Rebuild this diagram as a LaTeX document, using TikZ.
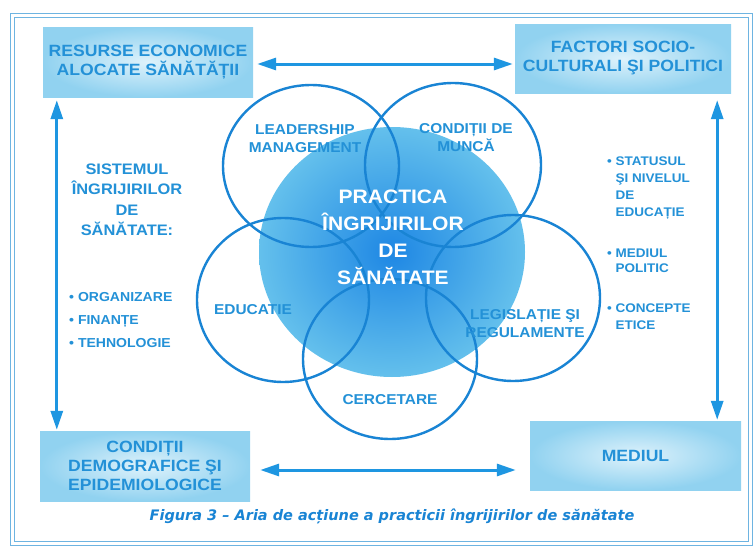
\documentclass[tikz,border=0pt]{standalone}
\usepackage{fontspec}
\setmainfont{Liberation Sans}[FakeStretch=1.08]
\newfontfamily\capfont{DejaVu Sans}
\usetikzlibrary{arrows.meta,shapes.geometric}
\definecolor{tblue}{RGB}{35,145,215}
\definecolor{lblue}{RGB}{25,132,212}
\definecolor{ablue}{RGB}{30,150,225}
\definecolor{fblue}{RGB}{110,180,225}
\definecolor{boxin}{RGB}{222,242,251}
\definecolor{boxout}{RGB}{145,210,240}
\definecolor{discin}{RGB}{30,135,228}
\definecolor{discout}{RGB}{100,192,236}
\begin{document}
\begin{tikzpicture}[x=1pt,y=-1pt,
  box/.style={rectangle, inner sep=0pt, inner color=boxin, outer color=boxout,
    text=tblue, align=center, font=\fontsize{16.3}{19}\selectfont\bfseries},
  lab/.style={text=tblue, align=center, inner sep=0pt, font=\fontsize{14.3}{18}\selectfont\bfseries},
  ring/.style={draw=lblue, line width=2.4pt},
  arr/.style={draw=ablue, line width=3pt, arrows={Triangle[length=19pt,width=12pt]-Triangle[length=19pt,width=12pt]}},
  small/.style={text=tblue, align=left, inner sep=0pt, anchor=west}
]
\useasboundingbox (0,0) rectangle (756,546);
\fill[white] (0,0) rectangle (756,546);
% frame
\draw[fblue, line width=0.9pt] (10,13) rectangle (752,545);
\draw[fblue, line width=0.9pt] (14,17) rectangle (748,541);
% central disc
\shade[inner color=discin, outer color=discout] (392,252) ellipse [x radius=133, y radius=125];
% rings
\draw[ring] (311,166) ellipse [x radius=88, y radius=81];
\draw[ring] (453,165) ellipse [x radius=88, y radius=82];
\draw[ring] (283,300) ellipse [x radius=86, y radius=82];
\draw[ring] (513,298) ellipse [x radius=87, y radius=83];
\draw[ring] (390,359) ellipse [x radius=87, y radius=80];
% ring labels
\node[lab] (lead) at (305,139) {LEADERSHIP\\MANAGEMENT};
\node[lab] (cond) at (466,138) {CONDIȚII DE\\MUNCĂ};
\node[lab] (educ) at (253,310) {EDUCATIE};
\node[lab] (legis) at (525,324) {LEGISLAȚIE ŞI\\REGULAMENTE};
\node[lab] (cerc) at (390,400) {CERCETARE};
% central text
\node[text=white, align=center, inner sep=0pt, font=\fontsize{19.5}{27}\selectfont\bfseries] (prac) at (393,237)
  {PRACTICA\\ÎNGRIJIRILOR\\DE\\SĂNĂTATE};
% corner boxes
\node[box, minimum width=210pt, minimum height=70pt] (tl) at (148,62) {RESURSE ECONOMICE\\ALOCATE SĂNĂTĂȚII};
\node[box, minimum width=216pt, minimum height=69pt] (tr) at (623,58.5) {FACTORI SOCIO-\\CULTURALI ŞI POLITICI};
\node[box, minimum width=210pt, minimum height=70pt] (bl) at (145,466) {CONDIȚII\\DEMOGRAFICE ŞI\\EPIDEMIOLOGICE};
\node[box, minimum width=211pt, minimum height=69pt] (br) at (635.5,455.5) {MEDIUL};
% left side text
\node[text=tblue, align=center, inner sep=0pt, font=\fontsize{15.2}{20.5}\selectfont\bfseries] (sist) at (127,200)
  {SISTEMUL\\ÎNGRIJIRILOR\\DE\\SĂNĂTATE:};
\node[small, font=\fontsize{13}{23}\selectfont\bfseries] (lbul) at (69,320)
  {• ORGANIZARE\\• FINANȚE\\• TEHNOLOGIE};
% right side text
\node[small, font=\fontsize{12.5}{17}\selectfont\bfseries] (r1) at (607,188)
  {• STATUSUL\\\hspace*{8.5pt}ŞI NIVELUL\\\hspace*{8.5pt}DE\\\hspace*{8.5pt}EDUCAȚIE};
\node[small, font=\fontsize{12.5}{15.5}\selectfont\bfseries] (r2) at (607,261)
  {• MEDIUL\\\hspace*{8.5pt}POLITIC};
\node[small, font=\fontsize{12.5}{17}\selectfont\bfseries] (r3) at (607,317)
  {• CONCEPTE\\\hspace*{8.5pt}ETICE};
% arrows
\draw[arr] ([xshift=4pt,yshift=-2pt]tl.east) -- ([xshift=-2pt,yshift=-2pt]tl.east -| tr.west);
\draw[arr] ([xshift=10pt,yshift=-4pt]bl.east) -- ([xshift=-14pt,yshift=-4pt]bl.east -| br.west);
\coordinate (la) at ([xshift=14pt,yshift=-3pt]tl.south west);
\draw[arr] (la) -- ([yshift=1pt]la |- bl.north);
\coordinate (ra) at ([xshift=-14pt,yshift=-7pt]tr.south east);
\draw[arr] (ra) -- ([yshift=1pt]ra |- br.north);
% caption
\node[text=lblue, inner sep=0pt, font=\capfont\fontsize{14.5}{17}\selectfont\bfseries\itshape] (cap) at (392,516)
  {Figura 3 – Aria de acțiune a practicii îngrijirilor de sănătate};
\end{tikzpicture}
\end{document}
